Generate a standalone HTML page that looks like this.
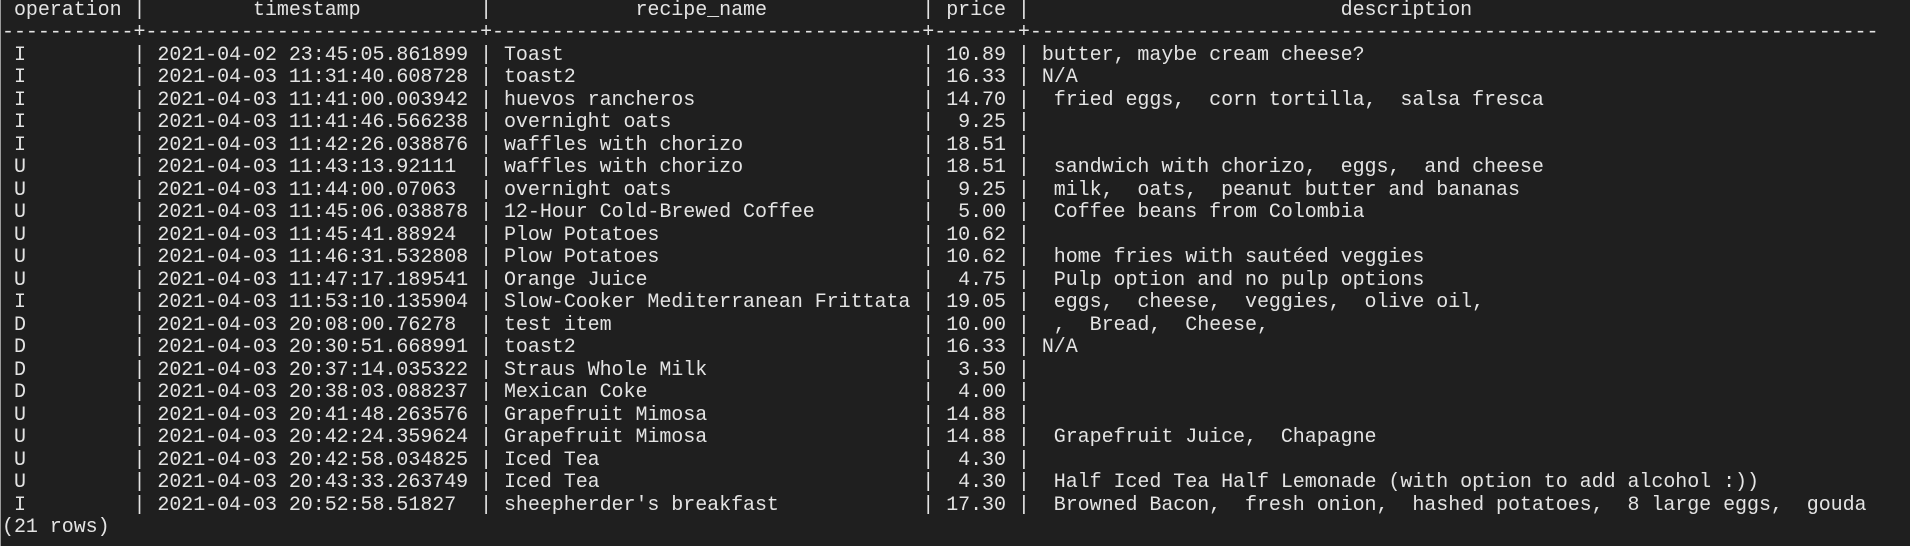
<!DOCTYPE html>
<html><head><meta charset="utf-8">
<style>
html,body{margin:0;padding:0;background:#1f1f1f;width:1910px;height:546px;overflow:hidden;}
#term{position:absolute;left:0;top:0;width:1909px;height:546px;border-left:1px solid #9a9a9a;background:#1f1f1f;}
#out{margin:0;position:absolute;left:1px;top:-0.5px;font-family:"Liberation Mono",monospace;font-size:20px;line-height:22.5px;color:#e4e4e4;white-space:pre;letter-spacing:-0.05px;}
.ln{height:22.5px;}
</style></head>
<body>
<div id="term">
<div id="out"></div>
</div>
<script>
const ops=["I","I","I","I","I","U","U","U","U","U","U","I","D","D","D","D","U","U","U","U","I"];
const times=["2021-04-02 23:45:05.861899","2021-04-03 11:31:40.608728","2021-04-03 11:41:00.003942","2021-04-03 11:41:46.566238","2021-04-03 11:42:26.038876","2021-04-03 11:43:13.92111","2021-04-03 11:44:00.07063","2021-04-03 11:45:06.038878","2021-04-03 11:45:41.88924","2021-04-03 11:46:31.532808","2021-04-03 11:47:17.189541","2021-04-03 11:53:10.135904","2021-04-03 20:08:00.76278","2021-04-03 20:30:51.668991","2021-04-03 20:37:14.035322","2021-04-03 20:38:03.088237","2021-04-03 20:41:48.263576","2021-04-03 20:42:24.359624","2021-04-03 20:42:58.034825","2021-04-03 20:43:33.263749","2021-04-03 20:52:58.51827"];
const names=["Toast","toast2","huevos rancheros","overnight oats","waffles with chorizo","waffles with chorizo","overnight oats","12-Hour Cold-Brewed Coffee","Plow Potatoes","Plow Potatoes","Orange Juice","Slow-Cooker Mediterranean Frittata","test item","toast2","Straus Whole Milk","Mexican Coke","Grapefruit Mimosa","Grapefruit Mimosa","Iced Tea","Iced Tea","sheepherder's breakfast"];
const prices=["10.89","16.33","14.70","9.25","18.51","18.51","9.25","5.00","10.62","10.62","4.75","19.05","10.00","16.33","3.50","4.00","14.88","14.88","4.30","4.30","17.30"];
const descs=["butter, maybe cream cheese?","N/A"," fried eggs,  corn tortilla,  salsa fresca",""," "," sandwich with chorizo,  eggs,  and cheese"," milk,  oats,  peanut butter and bananas"," Coffee beans from Colombia",""," home fries with sautéed veggies"," Pulp option and no pulp options"," eggs,  cheese,  veggies,  olive oil,"," ,  Bread,  Cheese,","N/A","","",""," Grapefruit Juice,  Chapagne",""," Half Iced Tea Half Lemonade (with option to add alcohol :))"," Browned Bacon,  fresh onion,  hashed potatoes,  8 large eggs,  gouda"];
const out=document.getElementById('out');
function add(txt,name){
  const d=document.createElement('div');
  d.className='ln';
  d.textContent=txt;
  
  
  out.appendChild(d);
}
add(" operation |         timestamp          |            recipe_name             | price |                          description","table-header");
add("-----------+----------------------------+------------------------------------+-------+-----------------------------------------------------------------------","header-separator");
for(let i=0;i<ops.length;i++){
  add(" "+ops[i].padEnd(9)+" | "+times[i].padEnd(26)+" | "+names[i].padEnd(34)+" | "+prices[i].padStart(5)+" | "+descs[i],"table-row");
}
add("(21 rows)","row-count");
</script>
</body></html>
